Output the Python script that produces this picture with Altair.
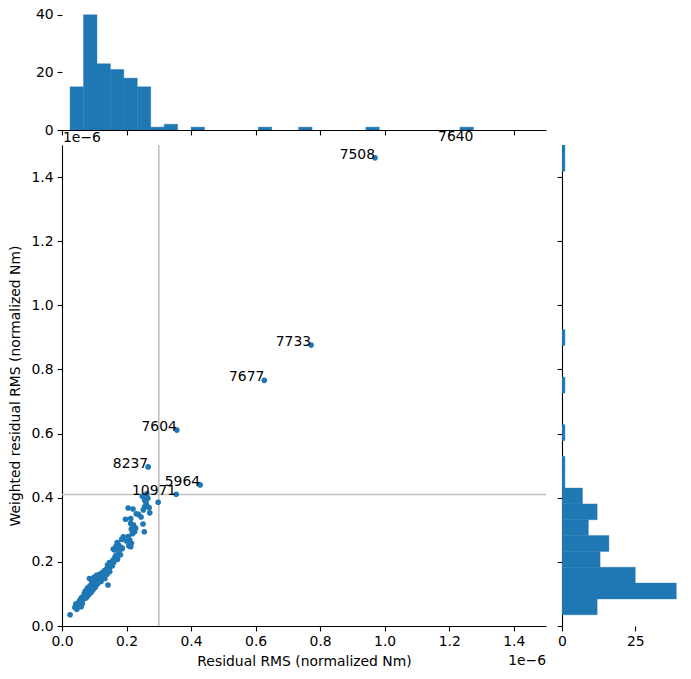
import altair as alt
import pandas as pd

# Residual RMS (x, in units of 1e-6 normalized Nm) and weighted residual RMS (y)
x_vals = [
    # low cluster
    0.025, 0.040, 0.043, 0.046, 0.048, 0.050, 0.053, 0.055, 0.057, 0.059, 0.060, 0.062, 0.063, 0.065, 0.066,
    0.068, 0.069, 0.070, 0.071, 0.072, 0.073, 0.074, 0.075, 0.076, 0.077,
    0.078, 0.079, 0.080, 0.081, 0.082, 0.083, 0.084, 0.085, 0.086, 0.087,
    0.088, 0.089, 0.090, 0.091, 0.092, 0.093, 0.094, 0.095, 0.096, 0.097,
    0.098, 0.099, 0.101, 0.103,
    0.085, 0.092, 0.099, 0.102, 0.105, 0.107,
    0.1425, 0.110,
    0.109, 0.111, 0.113, 0.115, 0.117, 0.119, 0.121, 0.123, 0.125, 0.127,
    0.129, 0.131, 0.133, 0.135, 0.137, 0.140, 0.143, 0.146, 0.148,
    0.141, 0.147,
    0.151, 0.153, 0.156, 0.158, 0.160, 0.163, 0.166, 0.168, 0.172, 0.176, 0.181,
    0.159, 0.163, 0.167, 0.171, 0.175, 0.179, 0.183, 0.187, 0.185, 0.190,
    0.205, 0.210, 0.215, 0.207, 0.213, 0.200,
    0.220, 0.215, 0.225, 0.222, 0.213, 0.218, 0.228,
    0.197, 0.213, 0.205, 0.220, 0.230,
    0.251, 0.255,
    0.237, 0.256, 0.270, 0.272, 0.252, 0.262, 0.245,
    0.249, 0.263, 0.256, 0.260, 0.266,
    # outliers
    0.298, 0.354, 0.356, 0.267, 0.428, 0.627, 0.772, 0.970, 1.275,
]
y_vals = [
    0.035, 0.058, 0.068, 0.052, 0.062, 0.072, 0.066, 0.080, 0.074, 0.060, 0.088, 0.078, 0.070, 0.092, 0.086,
    0.090, 0.100, 0.086, 0.095, 0.108, 0.092, 0.101, 0.088, 0.112, 0.097,
    0.105, 0.118, 0.094, 0.102, 0.110, 0.099, 0.121, 0.107, 0.114, 0.103,
    0.126, 0.111, 0.118, 0.106, 0.129, 0.115, 0.122, 0.112, 0.131, 0.119,
    0.125, 0.117, 0.128, 0.121,
    0.148, 0.140, 0.152, 0.138, 0.145, 0.158,
    0.128, 0.131,
    0.137, 0.150, 0.142, 0.160, 0.146, 0.155, 0.139, 0.165, 0.151, 0.164,
    0.158, 0.172, 0.148, 0.168, 0.177, 0.162, 0.174, 0.180, 0.170,
    0.190, 0.198,
    0.186, 0.195, 0.188, 0.205, 0.198, 0.212, 0.219, 0.216, 0.208, 0.225, 0.222,
    0.240, 0.237, 0.248, 0.260, 0.252, 0.237, 0.245, 0.242, 0.270, 0.278,
    0.279, 0.268, 0.258, 0.250, 0.247, 0.265,
    0.310, 0.302, 0.294, 0.315, 0.320, 0.288, 0.305,
    0.333, 0.335, 0.368, 0.365, 0.350,
    0.318, 0.294,
    0.348, 0.372, 0.369, 0.353, 0.362, 0.376, 0.340,
    0.405, 0.412, 0.393, 0.385, 0.398,
    0.386, 0.411, 0.611, 0.496, 0.440, 0.766, 0.876, 1.460, 1.517,
]
n_cluster = len(x_vals) - 9
point_labels = [""] * n_cluster + ["", "10971", "7604", "8237", "5964", "7677", "7733", "7508", "7640"]

ref_x = [0.3]
ref_y = [0.41]
x_ticks = [0.0, 0.2, 0.4, 0.6, 0.8, 1.0, 1.2, 1.4]
y_ticks = [0.0, 0.2, 0.4, 0.6, 0.8, 1.0, 1.2, 1.4]
top_ticks = [0, 20, 40]
right_ticks = [0, 25]

df = pd.DataFrame({"x": x_vals, "y": y_vals, "label": point_labels})

BLUE = "#1f77b4"
FONT = "DejaVu Sans"
FS = 13.9
MAIN_W, MAIN_H = 484, 481
TOP_H = 121
RIGHT_W = 120

xs = alt.Scale(domain=[0, 1.5], nice=False, zero=False)
ys = alt.Scale(domain=[0, 1.5], nice=False, zero=False)

# ---------- main scatter ----------
vline = alt.Chart(pd.DataFrame({"v": ref_x})).mark_rule(color="#bfbfbf", strokeWidth=1.6).encode(
    x=alt.X("v:Q", scale=xs)
)
hline = alt.Chart(pd.DataFrame({"v": ref_y})).mark_rule(color="#bfbfbf", strokeWidth=1.6).encode(
    y=alt.Y("v:Q", scale=ys)
)
pts = alt.Chart(df).mark_circle(size=32, color=BLUE, opacity=1, clip=True).encode(
    x=alt.X("x:Q", scale=xs,
            axis=alt.Axis(values=x_ticks, format=".1f", title="Residual RMS (normalized Nm)",
                          titlePadding=6, grid=False)),
    y=alt.Y("y:Q", scale=ys,
            axis=alt.Axis(values=y_ticks, format=".1f", title="Weighted residual RMS (normalized Nm)",
                          titlePadding=9, grid=False)),
)
lbls = alt.Chart(df).transform_filter("datum.label != ''").mark_text(
    align="right", baseline="alphabetic", dy=1, font=FONT, fontSize=FS, color="black"
).encode(x=alt.X("x:Q", scale=xs), y=alt.Y("y:Q", scale=ys), text="label:N")
offset_bottom = alt.Chart(pd.DataFrame({"t": ["1e\u22126"]})).mark_text(
    align="right", baseline="middle", font=FONT, fontSize=FS, color="black"
).encode(x=alt.value(MAIN_W), y=alt.value(MAIN_H + 35), text="t:N")

main = alt.layer(vline, hline, pts, lbls, offset_bottom).properties(width=MAIN_W, height=MAIN_H)

# ---------- top marginal histogram ----------
top_bars = alt.Chart(df).transform_joinaggregate(
    vmin="min(x)", vmax="max(x)"
).transform_calculate(
    w="(datum.vmax - datum.vmin) / 30",
    idx="min(floor((datum.x - datum.vmin) / datum.w), 29)",
    b0="datum.vmin + datum.idx * datum.w",
    b1="datum.vmin + (datum.idx + 1) * datum.w",
).transform_aggregate(
    n="count()", groupby=["b0", "b1"]
).mark_bar(color=BLUE, stroke=BLUE, strokeWidth=0.4, clip=True).encode(
    x=alt.X("b0:Q", scale=xs, axis=alt.Axis(values=x_ticks, labels=False, title=None, grid=False)),
    x2="b1:Q",
    y=alt.Y("n:Q", scale=alt.Scale(domain=[0, 42], nice=False),
            axis=alt.Axis(values=top_ticks, title=None, domain=False, grid=False)),
    y2=alt.datum(0),
)
offset_top = alt.Chart(pd.DataFrame({"t": ["1e\u22126"]})).mark_text(
    align="left", baseline="top", font=FONT, fontSize=FS, color="black"
).encode(x=alt.value(1), y=alt.value(TOP_H + 1), text="t:N")
top = alt.layer(top_bars, offset_top).properties(width=MAIN_W, height=TOP_H)

# ---------- right marginal histogram ----------
right = alt.Chart(df).transform_joinaggregate(
    vmin="min(y)", vmax="max(y)"
).transform_calculate(
    w="(datum.vmax - datum.vmin) / 30",
    idx="min(floor((datum.y - datum.vmin) / datum.w), 29)",
    b0="datum.vmin + datum.idx * datum.w",
    b1="datum.vmin + (datum.idx + 1) * datum.w",
).transform_aggregate(
    n="count()", groupby=["b0", "b1"]
).mark_bar(color=BLUE, stroke=BLUE, strokeWidth=0.4, clip=True).encode(
    y=alt.Y("b0:Q", scale=ys, axis=alt.Axis(values=y_ticks, labels=False, title=None, grid=False)),
    y2="b1:Q",
    x=alt.X("n:Q", scale=alt.Scale(domain=[0, 40.95], nice=False),
            axis=alt.Axis(values=right_ticks, title=None, domain=False, grid=False)),
    x2=alt.datum(0),
).properties(width=RIGHT_W, height=MAIN_H)

blank = alt.Chart(pd.DataFrame({"a": [0]})).mark_text(text="").encode(
    x=alt.value(0), y=alt.value(0)
).properties(width=RIGHT_W, height=TOP_H)

chart = alt.concat(
    top, blank, main, right, columns=2, spacing={"row": 15, "column": 16}, bounds="flush"
).properties(
    padding={"left": 7, "top": 2, "right": 5, "bottom": 5},
    background="white",
).configure_view(
    stroke="transparent"
).configure_axis(
    labelFont=FONT, titleFont=FONT, labelFontSize=FS, titleFontSize=FS,
    titleFontWeight="normal", labelColor="black", titleColor="black",
    domainColor="black", tickColor="black", domainWidth=1.1, tickWidth=1.1,
    tickSize=4.9, labelPadding=4, grid=False, labelFlush=False,
)

chart.save("out.html", embed_options={"renderer": "svg", "actions": False})
